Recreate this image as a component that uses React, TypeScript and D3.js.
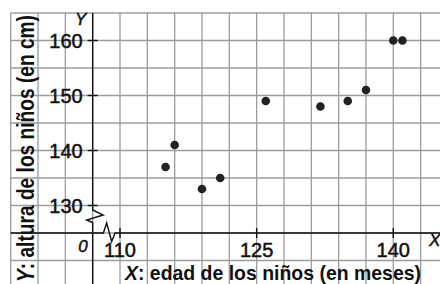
import React from "react";
import * as d3 from "d3";

const ageMonths = [115, 116, 119, 121, 126, 132, 135, 137, 140, 141];
const heightCm = [137, 141, 133, 135, 149, 148, 149, 151, 160, 160];
const xTickValues = [110, 125, 140];
const yTickValues = [130, 140, 150, 160];
const xGridValues = d3.range(98, 146, 3);
const yGridValues = d3.range(120, 170, 5);
const xAxisOriginValue = 107;
const yAxisOriginValue = 125;

const W = 440;
const H = 284;
const FONT = "'Liberation Sans Narrow', 'Liberation Sans', Arial, sans-serif";
const TFONT = "'Liberation Sans', Arial, sans-serif";

export default function App() {
  const x = d3.scaleLinear().domain([110, 140]).range([120, 393.3]);
  const y = d3.scaleLinear().domain([130, 160]).range([205.5, 40.5]);
  const ax = x(xAxisOriginValue);
  const ay = y(yAxisOriginValue);
  const gridLeft = x(xGridValues[0]);
  const gridTop = y(yGridValues[yGridValues.length - 1]);

  const line = d3.line<[number, number]>();
  const yAxisPath = line([
    [ax, gridTop],
    [ax, ay - 23],
    [ax + 10.5, ay - 18],
    [ax - 6, ay - 13],
    [ax, ay - 10.5],
    [ax, H],
  ]);
  const xAxisPath = line([
    [gridLeft, ay],
    [ax + 10.7, ay],
    [ax + 14, ay - 10],
    [ax + 19, ay + 8.5],
    [ax + 22.4, ay],
    [W, ay],
  ]);

  return (
    <svg width={W} height={H} style={{ position: "absolute", left: 0, top: 0, background: "#fff" }}>
      <rect width={W} height={H} fill="#fff" />
      {xGridValues.map((v) => (
        <line key={"gx" + v} x1={x(v)} x2={x(v)} y1={gridTop} y2={H} stroke="#9c9c9c" strokeWidth={1.3} />
      ))}
      {yGridValues.map((v) => (
        <line key={"gy" + v} x1={gridLeft} x2={W} y1={y(v)} y2={y(v)} stroke="#9c9c9c" strokeWidth={1.3} />
      ))}
      <path d={yAxisPath ?? ""} fill="none" stroke="#111" strokeWidth={1.4} />
      <path d={xAxisPath ?? ""} fill="none" stroke="#111" strokeWidth={1.4} />
      {yTickValues.map((v) => (
        <g key={"ty" + v}>
          <line x1={ax - 5} x2={ax + 5} y1={y(v)} y2={y(v)} stroke="#111" strokeWidth={1.4} />
          <text x={ax - 10} y={y(v)} dy="0.36em" textAnchor="end" fontFamily={TFONT} fontSize={20} fill="#111" stroke="#111" strokeWidth={0.5}>
            {v}
          </text>
        </g>
      ))}
      {xTickValues.map((v) => (
        <g key={"tx" + v}>
          <line x1={x(v)} x2={x(v)} y1={ay - 5} y2={ay + 5} stroke="#111" strokeWidth={1.4} />
          <text x={x(v)} y={ay + 24} textAnchor="middle" fontFamily={TFONT} fontSize={20} fill="#111" stroke="#111" strokeWidth={0.5}>
            {v}
          </text>
        </g>
      ))}
      <text x={ax - 5} y={ay + 19} textAnchor="end" fontFamily={TFONT} fontSize={17} fontStyle="italic" fill="#111" stroke="#111" strokeWidth={0.5}>
        0
      </text>
      <text x={ax - 12} y={25} textAnchor="middle" fontFamily={TFONT} fontSize={17} fontStyle="italic" fill="#111" stroke="#111" strokeWidth={0.5}>
        Y
      </text>
      <text x={429} y={246} fontFamily={TFONT} fontSize={17} fontStyle="italic" fill="#111" stroke="#111" strokeWidth={0.5}>
        X
      </text>
      <text x={125} y={280} fontFamily={FONT} fontSize={21} fontWeight="bold" fill="#111" textLength={296} lengthAdjust="spacingAndGlyphs">
        <tspan fontStyle="italic">X</tspan>: edad de los niños (en meses)
      </text>
      <text transform="translate(34,282) rotate(-90)" fontFamily={FONT} fontSize={23} fontWeight="bold" fill="#111" textLength={267} lengthAdjust="spacingAndGlyphs">
        <tspan fontStyle="italic">Y</tspan>: altura de los niños (en cm)
      </text>
      {ageMonths.map((m, i) => (
        <circle key={"p" + i} cx={x(m)} cy={y(heightCm[i])} r={4.3} fill="#222" />
      ))}
    </svg>
  );
}
